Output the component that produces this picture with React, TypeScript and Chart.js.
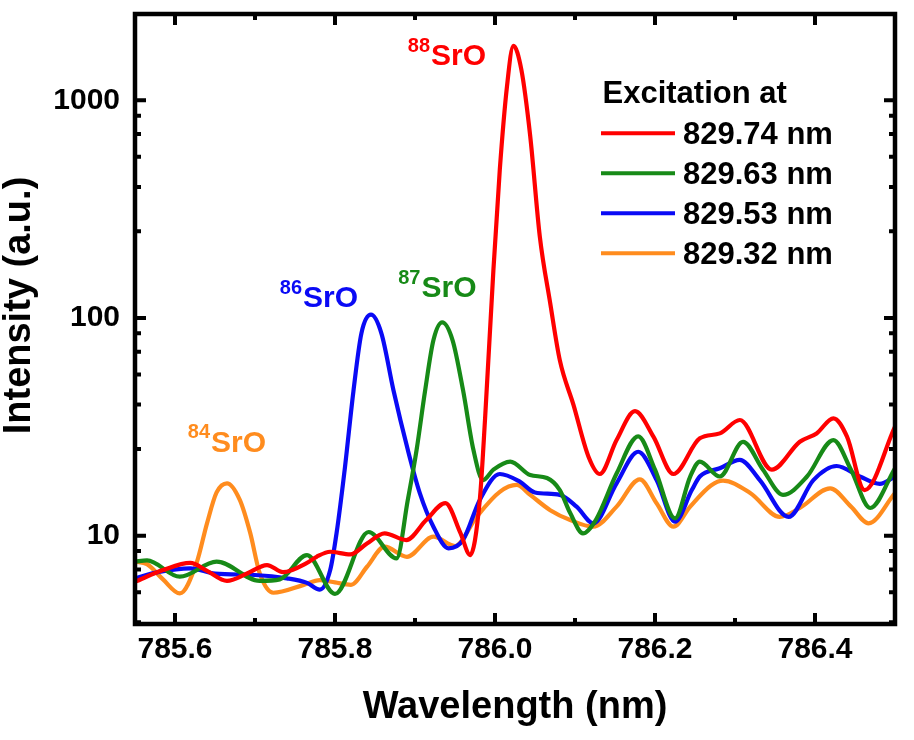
import React, { useEffect, useRef } from 'react';
import { Chart, registerables } from 'chart.js';

Chart.register(...registerables);

const FONT = '"Liberation Sans", Arial, Helvetica, sans-serif';

const seriesLabels = ['829.74 nm', '829.63 nm', '829.53 nm', '829.32 nm'];
const seriesColors = ['#ff0000', '#178a17', '#0a0af5', '#ff8c1e'];

const redX = [785.55, 785.585, 785.619, 785.64, 785.665, 785.69, 785.715, 785.735, 785.765, 785.777, 785.794, 785.819, 785.84, 785.862, 785.889, 785.914, 785.938, 785.957, 785.969, 785.981, 785.9875, 785.998, 786.006, 786.015, 786.023, 786.033, 786.044, 786.056, 786.069, 786.081, 786.098, 786.117, 786.131, 786.152, 786.175, 786.198, 786.223, 786.256, 786.281, 786.306, 786.346, 786.381, 786.402, 786.423, 786.44, 786.462, 786.5];
const redY = [6.14, 6.95, 7.5, 6.9, 6.2, 6.7, 7.33, 6.8, 7.5, 8.0, 8.44, 8.2, 9.2, 10.25, 9.55, 11.8, 14.1, 10.25, 8.15, 14.6, 34, 166, 480, 1160, 1780, 1380, 686, 237, 117, 64, 40, 23, 19.2, 27.5, 37.3, 28.5, 19.2, 28, 29.5, 34, 20.1, 27, 29.5, 34.6, 28.5, 16.2, 31.7];

const greenX = [785.55, 785.565, 785.606, 785.652, 785.706, 785.731, 785.765, 785.8, 785.842, 785.877, 785.891, 785.902, 785.9125, 785.923, 785.934, 785.947, 785.96, 785.973, 785.985, 785.998, 786.019, 786.044, 786.065, 786.081, 786.094, 786.11, 786.126, 786.152, 786.179, 786.2, 786.225, 786.244, 786.256, 786.281, 786.31, 786.335, 786.36, 786.39, 786.423, 786.445, 786.469, 786.5];
const greenY = [7.6, 7.7, 6.48, 7.6, 6.2, 6.3, 8.15, 5.4, 10.4, 7.87, 14.6, 24.8, 46, 79, 95.5, 79, 46.7, 24.8, 18.0, 20.1, 21.9, 19.0, 18.4, 16.2, 12.7, 10.25, 11.8, 19.3, 28.6, 20.1, 12.0, 18.7, 21.9, 18.7, 27, 20.1, 15.4, 18.7, 27.5, 20.1, 13.4, 20.4];

const blueX = [785.55, 785.58, 785.619, 785.65, 785.7, 785.74, 785.765, 785.781, 785.794, 785.802, 785.8125, 785.823, 785.833, 785.845, 785.858, 785.873, 785.891, 785.906, 785.923, 785.942, 785.96, 785.981, 786.006, 786.031, 786.05, 786.081, 786.102, 786.123, 786.152, 786.179, 786.202, 786.225, 786.246, 786.256, 786.281, 786.306, 786.331, 786.367, 786.398, 786.427, 786.456, 786.481, 786.5];
const blueY = [6.37, 6.82, 7.08, 6.7, 6.6, 6.37, 6.07, 5.65, 6.95, 10.3, 20.7, 46, 85, 103.5, 85, 46.7, 24.8, 15.7, 11.0, 8.75, 9.55, 14.6, 19.2, 17.7, 15.8, 15.4, 13.6, 11.4, 17.4, 24.3, 18.0, 11.6, 16.2, 18.7, 20.4, 22.3, 18.0, 12.2, 18.0, 20.9, 18.7, 17.3, 18.7];

const orangeX = [785.55, 785.565, 785.585, 785.606, 785.627, 785.64, 785.652, 785.665, 785.681, 785.694, 785.706, 785.723, 785.76, 785.781, 785.8, 785.82, 785.84, 785.862, 785.89, 785.923, 785.95, 785.977, 786.006, 786.027, 786.044, 786.069, 786.094, 786.123, 786.152, 786.181, 786.202, 786.223, 786.244, 786.27, 786.285, 786.319, 786.356, 786.381, 786.419, 786.445, 786.467, 786.5];
const orangeY = [7.6, 7.4, 6.3, 5.43, 7.5, 11.4, 15.8, 17.4, 14.6, 10.3, 6.7, 5.47, 5.93, 6.25, 6.1, 5.95, 7.2, 8.9, 8.0, 9.9, 8.96, 12.2, 15.9, 17.1, 15.4, 13.1, 11.8, 11.0, 13.6, 18.15, 14.1, 11.0, 13.6, 17.0, 17.9, 15.7, 12.2, 13.4, 16.5, 13.6, 11.4, 15.7];

const xMajorTicks = [785.6, 785.8, 786.0, 786.2, 786.4];
const xMinorTicks = [785.7, 785.9, 786.1, 786.3];
const yMajorTicks = [10, 100, 1000];
const yMinorTicks = [4, 5.5, 7, 8.5, 25, 40, 55, 70, 85, 250, 400, 550, 700, 850];

const peakMass = ['88', '87', '86', '84'];
const peakLabelX = [785.891, 785.879, 785.731, 785.616];
const peakLabelY = [1450, 124.6, 112, 24.3];
const peakColorIndex = [0, 1, 2, 3];

const makeData = (xs: number[], ys: number[]) => xs.map((x, i) => ({ x, y: ys[i] }));

const decorPlugin = {
  id: 'decor',
  afterDatasetsDraw(chart: any) {
    const { ctx, chartArea, scales } = chart;
    const xs = scales.x;
    const ys = scales.y;
    const { left, right, top, bottom } = chartArea;
    ctx.save();
    ctx.strokeStyle = '#000';
    ctx.lineWidth = 4;
    ctx.lineCap = 'butt';
    const xt = (v: number, len: number) => {
      const p = xs.getPixelForValue(v);
      ctx.beginPath();
      ctx.moveTo(p, bottom);
      ctx.lineTo(p, bottom - len);
      ctx.moveTo(p, top);
      ctx.lineTo(p, top + len);
      ctx.stroke();
    };
    const yt = (v: number, len: number) => {
      const p = ys.getPixelForValue(v);
      ctx.beginPath();
      ctx.moveTo(left, p);
      ctx.lineTo(left + len, p);
      ctx.moveTo(right, p);
      ctx.lineTo(right - len, p);
      ctx.stroke();
    };
    xMajorTicks.forEach((v) => xt(v, 11));
    xMinorTicks.forEach((v) => xt(v, 6));
    yMajorTicks.forEach((v) => yt(v, 11));
    yMinorTicks.forEach((v) => yt(v, 6));
    ctx.lineWidth = 4.5;
    ctx.strokeRect(left, top, right - left, bottom - top);

    peakMass.forEach((m, i) => {
      const px = xs.getPixelForValue(peakLabelX[i]);
      const py = ys.getPixelForValue(peakLabelY[i]);
      ctx.fillStyle = seriesColors[peakColorIndex[i]];
      ctx.textAlign = 'left';
      ctx.textBaseline = 'alphabetic';
      ctx.font = `bold 20px ${FONT}`;
      ctx.fillText(m, px, py - 13.5);
      const w = ctx.measureText(m).width;
      ctx.font = `bold 30px ${FONT}`;
      ctx.fillText('SrO', px + w + 1, py);
    });

    const lx = left + 466;
    ctx.fillStyle = '#000';
    ctx.font = `bold 31px ${FONT}`;
    ctx.textAlign = 'left';
    ctx.textBaseline = 'alphabetic';
    ctx.fillText('Excitation at', lx + 1.5, top + 89.3);
    chart.data.datasets.forEach((ds: any, i: number) => {
      const yy = top + 119.3 + i * 40;
      ctx.strokeStyle = ds.borderColor;
      ctx.lineWidth = 4;
      ctx.beginPath();
      ctx.moveTo(lx, yy);
      ctx.lineTo(lx + 74, yy);
      ctx.stroke();
      ctx.fillStyle = '#000';
      ctx.fillText(ds.label, lx + 82, yy + 10.5);
    });

    ctx.save();
    ctx.translate(20, 305.5);
    ctx.rotate(-Math.PI / 2);
    ctx.textAlign = 'center';
    ctx.textBaseline = 'middle';
    ctx.font = `bold 38px ${FONT}`;
    ctx.fillStyle = '#000';
    ctx.fillText('Intensity (a.u.)', 0, 0);
    ctx.restore();
    ctx.restore();
  },
};

export default function App() {
  const ref = useRef<HTMLCanvasElement | null>(null);
  useEffect(() => {
    if (!ref.current) return;
    const allX = [redX, greenX, blueX, orangeX];
    const allY = [redY, greenY, blueY, orangeY];
    const chart = new Chart(ref.current, {
      type: 'line',
      data: {
        datasets: seriesLabels.map((label, i) => ({
          label,
          data: makeData(allX[i], allY[i]),
          borderColor: seriesColors[i],
          backgroundColor: seriesColors[i],
          borderWidth: 4.2,
          pointRadius: 0,
          cubicInterpolationMode: 'monotone' as const,
          fill: false,
        })),
      },
      options: {
        animation: false,
        responsive: false,
        maintainAspectRatio: false,
        layout: { padding: { left: 0, right: 19, top: 14, bottom: 0 } },
        plugins: { legend: { display: false }, tooltip: { enabled: false } },
        scales: {
          x: {
            type: 'linear',
            min: 785.55,
            max: 786.5,
            grid: { display: false, drawTicks: false },
            border: { display: false },
            afterBuildTicks: (s: any) => {
              s.ticks = xMajorTicks.map((v) => ({ value: v }));
            },
            afterFit: (s: any) => {
              s.height = 116;
              s.paddingLeft = 0;
              s.paddingRight = 0;
              s.paddingTop = 0;
              s.paddingBottom = 0;
            },
            ticks: {
              autoSkip: false,
              maxRotation: 0,
              padding: 8,
              color: '#000',
              font: { family: FONT, size: 30, weight: 'bold' },
              callback: (v: any) => Number(v).toFixed(1),
            },
            title: {
              display: true,
              text: 'Wavelength (nm)',
              color: '#000',
              font: { family: FONT, size: 38, weight: 'bold' },
              padding: { top: 0, bottom: 10 },
            },
          },
          y: {
            type: 'logarithmic',
            min: 3.93,
            max: 2490,
            grid: { display: false, drawTicks: false },
            border: { display: false },
            afterBuildTicks: (s: any) => {
              s.ticks = yMajorTicks.map((v) => ({ value: v }));
            },
            afterFit: (s: any) => {
              s.width = 135;
              s.paddingLeft = 0;
              s.paddingRight = 0;
              s.paddingTop = 0;
              s.paddingBottom = 0;
            },
            ticks: {
              autoSkip: false,
              padding: 15,
              color: '#000',
              font: { family: FONT, size: 30, weight: 'bold' },
              callback: (v: any) => String(v),
            },
          },
        },
      } as any,
      plugins: [decorPlugin],
    });
    return () => chart.destroy();
  }, []);
  return (
    <div style={{ position: 'fixed', left: 0, top: 0, width: 914, height: 740, background: '#fff' }}>
      <canvas ref={ref} width={914} height={740} style={{ width: 914, height: 740 }} />
    </div>
  );
}
